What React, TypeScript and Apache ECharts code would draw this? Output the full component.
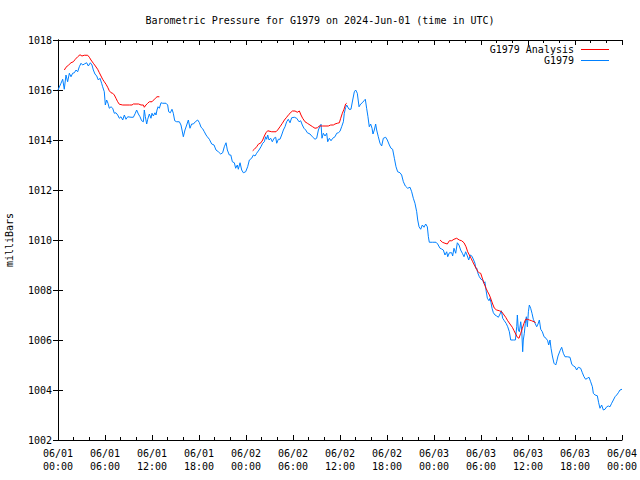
import React, { useEffect, useRef } from "react";
import * as echarts from "echarts";

const TITLE = "Barometric Pressure for G1979 on 2024-Jun-01 (time in UTC)";
const Y_NAME = "milliBars";
const SERIES_OBS = "G1979";
const SERIES_ANA = "G1979 Analysis";

// x tick labels (every 6 hours from 2024-06-01 00:00 UTC)
const tickDates = ["06/01", "06/01", "06/01", "06/01", "06/02", "06/02", "06/02", "06/02", "06/03", "06/03", "06/03", "06/03", "06/04"];
const tickTimes = ["00:00", "06:00", "12:00", "18:00", "00:00", "06:00", "12:00", "18:00", "00:00", "06:00", "12:00", "18:00", "00:00"];

// Observed pressure: hours since 06/01 00:00 and values (mb)
const obsHours = [
  0.0, 0.38, 0.6, 0.8, 1.02, 1.23, 1.45, 1.66, 1.87, 2.09, 2.3, 2.51, 2.72, 2.94, 3.15, 3.36, 3.66, 3.87, 4.13, 4.34,
  4.51, 4.72, 4.94, 5.15, 5.36, 5.57, 5.7, 5.91, 6.04, 6.21, 6.38, 6.55, 6.77, 6.98, 7.19, 7.4, 7.62, 7.83, 8.04, 8.26,
  8.47, 8.68, 8.9, 9.32, 9.62, 9.87, 10.04, 10.26, 10.47, 10.68, 10.9, 11.02, 11.15, 11.32, 11.45, 11.66, 11.87, 12.0, 12.17, 12.38,
  12.51, 12.64, 12.77, 12.94, 13.15, 13.36, 13.79, 14.0, 14.13, 14.34, 14.55, 14.72, 14.9, 15.15, 15.49, 15.7, 15.83, 16.0, 16.21, 16.43,
  16.64, 16.85, 17.06, 17.28, 17.53, 17.83, 18.04, 18.26, 18.47, 18.68, 18.9, 19.06, 19.32, 19.62, 19.92, 20.17, 20.47, 20.77, 21.02, 21.23,
  21.45, 21.62, 21.87, 22.06, 22.26, 22.51, 22.68, 22.89, 23.02, 23.24, 23.45, 23.66, 23.96, 24.21, 24.43, 24.72, 24.94, 25.15, 25.36, 25.66,
  25.91, 26.13, 26.34, 26.51, 26.64, 26.77, 26.94, 27.15, 27.36, 27.58, 27.79, 27.92, 28.13, 28.34, 28.55, 28.77, 28.98, 29.19, 29.4, 29.62,
  29.83, 30.17, 30.47, 30.77, 30.98, 31.19, 31.4, 31.62, 31.83, 32.17, 32.47, 32.81, 33.02, 33.24, 33.45, 33.58, 33.7, 33.87, 34.09, 34.3,
  34.43, 34.64, 34.85, 35.07, 35.36, 35.58, 35.79, 36.0, 36.21, 36.43, 36.55, 36.72, 36.85, 36.94, 37.15, 37.4, 37.62, 37.83, 38.0, 38.21,
  38.43, 38.64, 38.85, 39.06, 39.23, 39.4, 39.57, 39.74, 39.91, 40.09, 40.21, 40.38, 40.55, 40.68, 40.89, 41.11, 41.32, 41.53, 41.83, 42.04,
  42.3, 42.51, 42.72, 42.94, 43.15, 43.36, 43.66, 43.87, 44.09, 44.34, 44.64, 44.94, 45.15, 45.36, 45.57, 45.79, 45.92, 46.09, 46.3, 46.51,
  46.72, 46.94, 47.15, 47.28, 47.4, 47.83, 48.26, 48.47, 48.77, 48.98, 49.19, 49.4, 49.62, 49.75, 49.96, 50.26, 50.38, 50.55, 50.77, 50.98,
  51.19, 51.4, 51.62, 51.83, 52.04, 52.26, 52.43, 52.64, 52.85, 53.06, 53.23, 53.32, 53.45, 53.58, 53.79, 54.0, 54.21, 54.38, 54.5, 54.64,
  54.81, 55.02, 55.15, 55.28, 55.41, 55.58, 55.79, 56.0, 56.22, 56.43, 56.6, 56.77, 56.98, 57.2, 57.41, 57.62, 57.79, 58.13, 58.39, 58.56,
  58.64, 58.77, 58.9, 59.07, 59.2, 59.32, 59.4, 59.53, 59.66, 59.79, 59.92, 60.05, 60.17, 60.34, 60.51, 60.68, 60.9, 61.11, 61.28, 61.45,
  61.62, 61.83, 62.05, 62.3, 62.51, 62.64, 62.81, 62.94, 63.11, 63.32, 63.54, 63.66, 63.83, 64.09, 64.3, 64.51, 64.72, 65.02, 65.36, 65.58,
  65.79, 66.0, 66.21, 66.43, 66.72, 66.94, 67.15, 67.36, 67.58, 67.79, 68.0, 68.22, 68.34, 68.56, 68.85, 69.02, 69.19, 69.4, 69.62, 69.83,
  70.05, 70.26, 70.47, 70.68, 70.9, 71.11, 71.32, 71.53, 71.74, 72.0,
];
const obsValues = [
  1016.0, 1016.27, 1016.43, 1016.03, 1016.6, 1016.33, 1016.67, 1016.53, 1016.67, 1016.69, 1016.8, 1016.73, 1016.93, 1017.07, 1017.0, 1017.04, 1017.09, 1016.96, 1017.09, 1017.0,
  1016.8, 1016.64, 1016.56, 1016.4, 1016.47, 1016.27, 1016.13, 1015.93, 1015.4, 1015.6, 1015.47, 1015.27, 1015.33, 1015.27, 1015.07, 1015.09, 1015.0, 1014.87, 1014.93, 1014.8,
  1015.0, 1014.83, 1014.93, 1014.91, 1014.91, 1015.07, 1015.2, 1015.04, 1014.93, 1014.77, 1014.73, 1015.2, 1014.93, 1014.64, 1014.83, 1015.04, 1014.87, 1015.07, 1014.96, 1015.09,
  1015.0, 1015.2, 1015.33, 1015.27, 1015.49, 1015.47, 1015.47, 1015.4, 1015.13, 1015.09, 1015.23, 1015.07, 1014.77, 1014.73, 1014.73, 1014.6, 1014.4, 1014.13, 1014.4, 1014.6,
  1014.8, 1014.47, 1014.64, 1014.64, 1014.73, 1014.8, 1014.7, 1014.51, 1014.45, 1014.33, 1014.2, 1014.13, 1014.03, 1013.84, 1013.8, 1013.6, 1013.53, 1013.44, 1013.49, 1013.73,
  1013.89, 1013.6, 1013.4, 1013.4, 1013.13, 1013.09, 1012.87, 1013.0, 1012.83, 1013.09, 1012.8, 1012.69, 1012.73, 1012.93, 1013.2, 1013.27, 1013.4, 1013.36, 1013.47, 1013.6,
  1013.73, 1013.87, 1013.93, 1014.13, 1014.03, 1014.2, 1014.0, 1014.07, 1013.93, 1014.07, 1014.11, 1013.87, 1014.03, 1014.03, 1014.2, 1014.4, 1014.53, 1014.73, 1014.83, 1014.69,
  1014.89, 1014.91, 1014.87, 1014.73, 1014.77, 1014.6, 1014.47, 1014.4, 1014.29, 1014.24, 1014.13, 1014.03, 1014.07, 1014.4, 1014.56, 1014.63, 1014.07, 1014.27, 1014.16, 1014.27,
  1013.93, 1014.07, 1013.97, 1014.07, 1014.13, 1014.27, 1014.29, 1014.35, 1014.53, 1014.73, 1015.07, 1015.3, 1015.4, 1015.4, 1015.23, 1015.23, 1015.6, 1015.93, 1016.0, 1015.87,
  1015.33, 1015.44, 1015.49, 1015.57, 1015.63, 1015.27, 1014.93, 1014.53, 1014.64, 1014.47, 1014.24, 1014.4, 1014.64, 1014.4, 1014.13, 1013.87, 1013.76, 1014.07, 1014.11, 1014.0,
  1013.8, 1013.67, 1013.63, 1013.27, 1012.93, 1012.73, 1012.69, 1012.6, 1012.33, 1012.16, 1012.07, 1012.11, 1011.93, 1011.67, 1011.47, 1011.13, 1010.8, 1010.53, 1010.43, 1010.6,
  1010.51, 1010.64, 1010.53, 1010.13, 1009.91, 1009.91, 1009.91, 1009.84, 1009.67, 1009.64, 1009.6, 1009.4, 1009.53, 1009.33, 1009.49, 1009.49, 1009.36, 1009.67, 1009.47, 1009.89,
  1009.8, 1009.6, 1009.47, 1009.33, 1009.53, 1009.36, 1009.2, 1009.4, 1009.35, 1009.2, 1009.07, 1008.87, 1008.88, 1008.69, 1008.53, 1008.43, 1008.4, 1008.27, 1008.33, 1008.0,
  1007.67, 1007.57, 1007.67, 1007.49, 1007.27, 1007.09, 1007.0, 1006.96, 1006.91, 1007.04, 1007.17, 1006.87, 1006.77, 1006.67, 1006.53, 1006.33, 1006.0, 1006.0, 1006.0, 1006.53,
  1007.0, 1006.4, 1006.33, 1006.73, 1006.4, 1005.53, 1006.0, 1006.27, 1006.67, 1006.93, 1006.53, 1007.13, 1007.4, 1007.27, 1007.07, 1006.83, 1006.67, 1006.53, 1006.64, 1006.8,
  1006.43, 1006.33, 1006.13, 1006.07, 1005.97, 1005.8, 1006.0, 1005.67, 1005.36, 1005.07, 1005.0, 1005.13, 1005.36, 1005.57, 1005.71, 1005.47, 1005.33, 1005.33, 1005.31, 1005.04,
  1004.96, 1004.93, 1004.8, 1004.91, 1004.87, 1004.69, 1004.53, 1004.43, 1004.47, 1004.51, 1004.33, 1004.13, 1003.87, 1003.8, 1003.77, 1003.49, 1003.27, 1003.4, 1003.2, 1003.23,
  1003.33, 1003.36, 1003.33, 1003.47, 1003.6, 1003.73, 1003.8, 1003.89, 1004.0, 1004.03,
];

// Analysis: three separate segments
const anaHoursA = [
  0.81, 1.02, 1.36, 1.66, 1.96, 2.21, 2.51, 2.81, 3.06, 3.36, 3.79, 4.0, 4.21, 4.51, 4.77, 5.06, 5.28, 5.49, 5.7, 5.91,
  6.13, 6.34, 6.55, 6.77, 6.98, 7.19, 7.4, 7.62, 7.83, 8.26, 8.68, 9.11, 9.45, 9.62, 9.96, 10.3, 10.6, 10.9, 11.02, 11.23,
  11.45, 11.66, 12.0, 12.21, 12.43, 12.64, 12.94,
];
const anaValuesA = [
  1016.8, 1016.91, 1017.0, 1017.09, 1017.13, 1017.23, 1017.33, 1017.41, 1017.36, 1017.39, 1017.39, 1017.31, 1017.2, 1017.07, 1016.96, 1016.83, 1016.69, 1016.56, 1016.43, 1016.33,
  1016.23, 1016.11, 1015.97, 1015.89, 1015.87, 1015.8, 1015.67, 1015.53, 1015.43, 1015.4, 1015.4, 1015.4, 1015.4, 1015.44, 1015.44, 1015.44, 1015.4, 1015.4, 1015.31, 1015.4,
  1015.47, 1015.53, 1015.53, 1015.6, 1015.67, 1015.73, 1015.73,
];
const anaHoursB = [
  24.85, 25.07, 25.36, 25.57, 25.91, 26.13, 26.34, 26.55, 26.77, 27.28, 27.83, 28.04, 28.34, 28.64, 28.9, 29.19, 29.49, 29.75, 29.92, 30.26,
  30.55, 30.81, 31.02, 31.23, 31.53, 31.83, 32.17, 32.51, 32.81, 33.11, 33.36, 33.79, 34.21, 34.51, 34.81, 35.15, 35.36, 35.66, 35.92, 36.09,
  36.3, 36.51, 36.72, 36.85,
];
const anaValuesB = [
  1013.57, 1013.63, 1013.73, 1013.83, 1013.89, 1014.0, 1014.16, 1014.29, 1014.37, 1014.33, 1014.33, 1014.4, 1014.53, 1014.67, 1014.8, 1014.91, 1015.03, 1015.11, 1015.16, 1015.16,
  1015.11, 1015.16, 1015.0, 1014.87, 1014.73, 1014.67, 1014.6, 1014.53, 1014.47, 1014.49, 1014.56, 1014.56, 1014.56, 1014.56, 1014.6, 1014.6, 1014.64, 1014.67, 1014.69, 1014.87,
  1015.07, 1015.23, 1015.44, 1015.47,
];
const anaHoursC = [
  48.77, 49.07, 49.4, 49.7, 49.96, 50.26, 50.55, 50.89, 51.23, 51.53, 51.83, 52.09, 52.3, 52.51, 52.73, 52.94, 53.15, 53.36, 53.58, 53.79,
  53.96, 54.21, 54.38, 54.64, 54.85, 55.07, 55.28, 55.49, 55.71, 56.0, 56.34, 56.64, 56.85, 57.15, 57.41, 57.7, 58.0, 58.22, 58.43, 58.64,
  58.85, 59.07, 59.28, 59.49, 59.7, 59.92, 60.17, 60.47, 60.77, 60.98,
];
const anaValuesC = [
  1010.0, 1009.91, 1009.87, 1009.84, 1009.97, 1009.97, 1010.03, 1010.07, 1010.0, 1009.97, 1009.89, 1009.73, 1009.53, 1009.4, 1009.27, 1009.13, 1009.0, 1008.88, 1008.75, 1008.68,
  1008.67, 1008.43, 1008.27, 1008.07, 1007.93, 1007.8, 1007.63, 1007.44, 1007.27, 1007.2, 1007.17, 1007.13, 1007.04, 1006.91, 1006.77, 1006.64, 1006.51, 1006.37, 1006.24, 1006.11,
  1006.07, 1006.27, 1006.47, 1006.67, 1006.83, 1006.83, 1006.8, 1006.77, 1006.73, 1006.69,
];

const FONT = "DejaVu Sans Mono";

function zip(h: number[], v: number[]) {
  return h.map((x, i) => [x, v[i]]);
}

export default function App() {
  const ref = useRef<HTMLDivElement>(null);
  useEffect(() => {
    if (!ref.current) return;
    const chart = echarts.init(ref.current, undefined, { renderer: "svg" });
    const anaData: any[] = [
      ...zip(anaHoursA, anaValuesA),
      [13.5, null],
      ...zip(anaHoursB, anaValuesB),
      [40, null],
      ...zip(anaHoursC, anaValuesC),
    ];
    const axisCommon = {
      axisLine: { show: true, lineStyle: { color: "#000", width: 1 } },
      splitLine: { show: false },
    };
    chart.setOption({
      animation: false,
      backgroundColor: "#fff",
      textStyle: { fontFamily: FONT },
      title: {
        text: TITLE,
        left: "center",
        top: 10,
        textStyle: { fontFamily: FONT, fontSize: 10, fontWeight: "normal", color: "#000" },
      },
      legend: {
        orient: "vertical",
        align: "right",
        right: 31,
        top: 44,
        padding: 0,
        icon: "rect",
        itemWidth: 28,
        itemHeight: 1,
        itemGap: 0,
        data: [SERIES_ANA, SERIES_OBS],
        textStyle: { fontFamily: FONT, fontSize: 10, color: "#000", lineHeight: 11, padding: [0, 2, 0, 0] },
      },
      grid: { left: 58, top: 40, width: 564, height: 400, containLabel: false, outerBoundsMode: "none" },
      xAxis: [
        {
          ...axisCommon,
          type: "value",
          position: "bottom",
          min: 0,
          max: 72,
          interval: 6,
          axisTick: { show: true, inside: true, length: 5, lineStyle: { color: "#000" } },
          minorTick: { show: true, splitNumber: 3, length: 3, lineStyle: { color: "#000" } },
          axisLabel: {
            fontFamily: FONT,
            fontSize: 10,
            color: "#000",
            margin: 7,
            lineHeight: 13,
            formatter: (v: number) => {
              const i = Math.round(v / 6);
              return tickDates[i] + "\n" + tickTimes[i];
            },
          },
        },
        {
          ...axisCommon,
          type: "value",
          position: "top",
          min: 0,
          max: 72,
          interval: 6,
          axisTick: { show: true, inside: true, length: 5, lineStyle: { color: "#000" } },
          minorTick: { show: true, splitNumber: 3, length: 3, lineStyle: { color: "#000" } },
          axisLabel: { show: false },
        },
      ],
      yAxis: [
        {
          ...axisCommon,
          type: "value",
          position: "left",
          min: 1002,
          max: 1018,
          interval: 2,
          name: Y_NAME,
          nameLocation: "middle",
          nameRotate: 90,
          nameGap: 44,
          nameTextStyle: { fontFamily: FONT, fontSize: 10, color: "#000" },
          axisTick: { show: true, inside: true, length: 5, lineStyle: { color: "#000" } },
          axisLabel: { fontFamily: FONT, fontSize: 10, color: "#000", margin: 6, formatter: (v: number) => String(v) },
        },
        {
          ...axisCommon,
          type: "value",
          position: "right",
          min: 1002,
          max: 1018,
          interval: 2,
          axisTick: { show: true, inside: true, length: 5, lineStyle: { color: "#000" } },
          axisLabel: { show: false },
        },
      ],
      series: [
        {
          name: SERIES_OBS,
          type: "line",
          data: zip(obsHours, obsValues),
          showSymbol: false,
          symbol: "none",
          lineStyle: { color: "#0080ff", width: 1 },
          itemStyle: { color: "#0080ff" },
          z: 2,
        },
        {
          name: SERIES_ANA,
          type: "line",
          data: anaData,
          connectNulls: false,
          showSymbol: false,
          symbol: "none",
          lineStyle: { color: "#ff0000", width: 1 },
          itemStyle: { color: "#ff0000" },
          z: 3,
        },
      ],
    });
    return () => chart.dispose();
  }, []);
  return <div ref={ref} style={{ width: 640, height: 480, position: "absolute", left: 0, top: 0 }} />;
}
